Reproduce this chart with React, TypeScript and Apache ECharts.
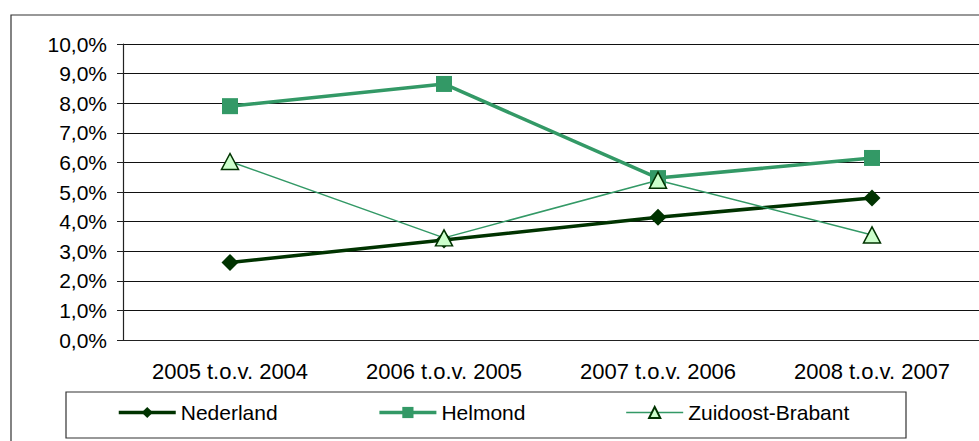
import React, { useEffect, useRef } from "react";
import * as echarts from "echarts";

const categories = ["2005 t.o.v. 2004", "2006 t.o.v. 2005", "2007 t.o.v. 2006", "2008 t.o.v. 2007"];
const nederland = [2.62, 3.38, 4.15, 4.8];
const helmond = [7.9, 8.65, 5.47, 6.15];
const zuidoostBrabant = [6.03, 3.45, 5.4, 3.55];
const yTicks = { min: 0, max: 10, interval: 1 };

const FONT = "Liberation Sans, Arial, sans-serif";

export default function App() {
  const ref = useRef<HTMLDivElement>(null);
  useEffect(() => {
    if (!ref.current) return;
    const chart = echarts.init(ref.current, null, { renderer: "svg" });
    chart.setOption({
      animation: false,
      backgroundColor: "#ffffff",
      textStyle: { fontFamily: FONT },
      graphic: [
        {
          type: "rect",
          shape: { x: 11, y: 15, width: 1000, height: 500 },
          style: { fill: "none", stroke: "#333333", lineWidth: 1.2 },
          z: -1,
        },
        {
          type: "rect",
          shape: { x: 66, y: 392, width: 840, height: 46 },
          style: { fill: "none", stroke: "#333333", lineWidth: 1.2 },
          z: -1,
        },
      ],
      grid: { left: 123, top: 44, width: 860, height: 296, containLabel: false },
      xAxis: {
        type: "category",
        data: categories,
        boundaryGap: true,
        axisLine: { show: true, lineStyle: { color: "#222", width: 1.2 } },
        axisTick: { show: false },
        axisLabel: { color: "#000", fontSize: 22, margin: 20, fontFamily: FONT },
        splitLine: { show: false },
      },
      yAxis: {
        type: "value",
        min: yTicks.min,
        max: yTicks.max,
        interval: yTicks.interval,
        axisLine: { show: true, lineStyle: { color: "#222", width: 1.2 } },
        axisTick: { show: true, length: 6, lineStyle: { color: "#222" } },
        axisLabel: {
          color: "#000",
          fontSize: 21,
          margin: 16,
          fontFamily: FONT,
          formatter: (v: number) => v.toFixed(1).replace(".", ",") + "%",
        },
        splitLine: { show: true, lineStyle: { color: "#111", width: 1.2 } },
      },
      legend: {
        left: 117,
        top: 402,
        padding: 0,
        orient: "horizontal",
        itemWidth: 57,
        itemHeight: 14,
        itemGap: 100,
        textStyle: { color: "#000", fontSize: 21, fontFamily: FONT },
        data: [
          { name: "Nederland", lineStyle: { width: 3.5, color: "#003300" } },
          { name: "Helmond", lineStyle: { width: 3.5, color: "#339966" } },
          { name: "Zuidoost-Brabant", lineStyle: { width: 1.5, color: "#339966" } },
        ],
      },
      series: [
        {
          name: "Nederland",
          type: "line",
          data: nederland,
          symbol: "diamond",
          symbolSize: [17, 17],
          lineStyle: { color: "#003300", width: 3.5 },
          itemStyle: { color: "#003300", borderColor: "#003300", borderWidth: 0 },
        },
        {
          name: "Helmond",
          type: "line",
          data: helmond,
          symbol: "rect",
          symbolSize: [16, 16],
          lineStyle: { color: "#339966", width: 3.5 },
          itemStyle: { color: "#339966", borderColor: "#339966", borderWidth: 0 },
        },
        {
          name: "Zuidoost-Brabant",
          type: "line",
          data: zuidoostBrabant,
          symbol: "triangle",
          symbolSize: [17, 16],
          lineStyle: { color: "#339966", width: 1.5 },
          itemStyle: { color: "#ccffcc", borderColor: "#003300", borderWidth: 1.5 },
        },
      ],
    });
    return () => chart.dispose();
  }, []);
  return (
    <div
      ref={ref}
      style={{ position: "fixed", left: 0, top: 0, width: 979, height: 441 }}
    />
  );
}
